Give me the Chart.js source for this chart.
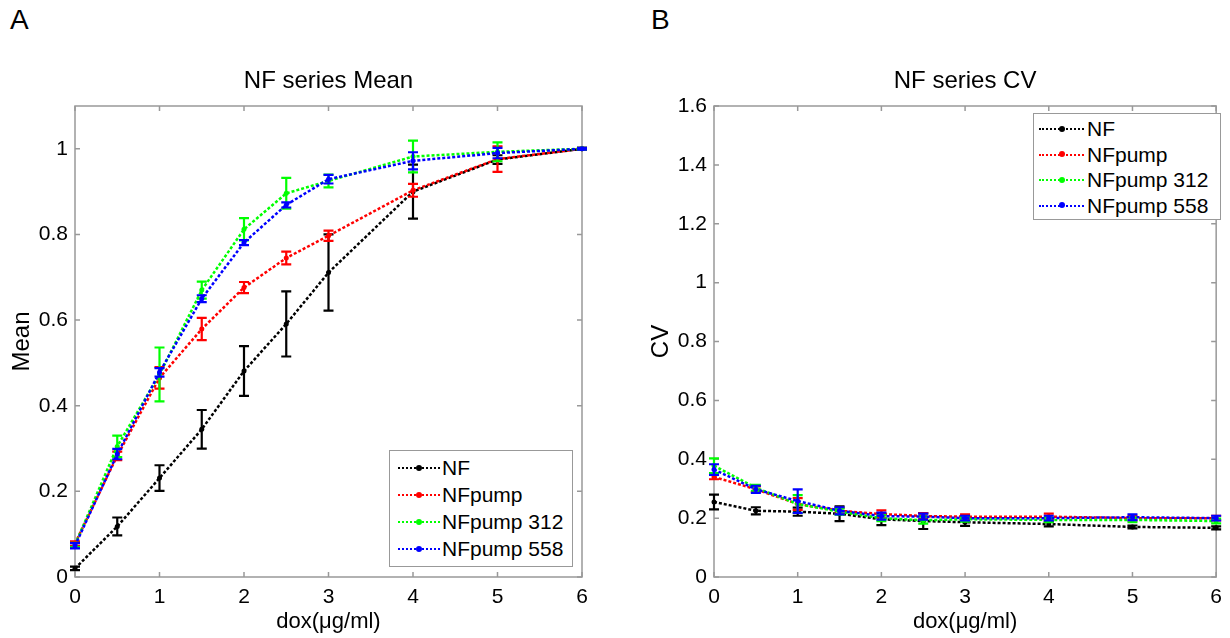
<!DOCTYPE html>
<html><head><meta charset="utf-8">
<script src="https://cdn.jsdelivr.net/npm/chart.js@4/dist/chart.umd.min.js"></script>
<style>
body{margin:0;background:#fff;width:1230px;height:638px;position:relative;overflow:hidden;font-family:"Liberation Sans",Arial,sans-serif;}
.wrap{position:absolute;top:0;width:615px;height:638px;}
.panel{position:absolute;font-size:28px;line-height:28px;color:#000;}
.legend{position:absolute;border:1px solid #999;background:#fff;font-size:21px;color:#000;box-sizing:border-box;}
.row{position:absolute;left:0;height:24px;line-height:24px;white-space:nowrap;}
.sample{position:absolute;top:11px;height:0;border-top:2.5px dotted;}
.dot{position:absolute;width:6px;height:6px;border-radius:3px;top:-4.5px;}
.lbl{position:absolute;top:0;}
</style>
</head><body>
<div class="panel" style="left:10px;top:6px">A</div>
<div class="panel" style="left:651px;top:6px">B</div>
<div class="wrap" style="left:0"><canvas id="cA" width="615" height="638"></canvas></div>
<div class="wrap" style="left:615px"><canvas id="cB" width="615" height="638"></canvas></div>
<div class="legend" id="legA" style="left:389px;top:450px;width:184px;height:117px"></div>
<div class="legend" id="legB" style="left:1033px;top:113px;width:188px;height:107px"></div>
<script>
// ---- data ----
const xValues = [0, 0.5, 1, 1.5, 2, 2.5, 3, 4, 5, 6];
const seriesNames = ["NF", "NFpump", "NFpump 312", "NFpump 558"];
const seriesColors = ["#000000", "#ff0000", "#00ff00", "#0000ff"];

const nfMean     = [0.020, 0.118, 0.231, 0.345, 0.481, 0.591, 0.711, 0.900, 0.975, 1.000];
const nfMeanErr  = [0.004, 0.021, 0.030, 0.045, 0.058, 0.076, 0.089, 0.063, 0.010, 0.002];
const pumpMean   = [0.078, 0.283, 0.465, 0.579, 0.676, 0.745, 0.797, 0.903, 0.976, 1.000];
const pumpMeanErr= [0.005, 0.010, 0.025, 0.026, 0.013, 0.015, 0.012, 0.015, 0.030, 0.002];
const p312Mean   = [0.075, 0.305, 0.473, 0.670, 0.812, 0.896, 0.925, 0.982, 0.993, 1.000];
const p312MeanErr= [0.005, 0.025, 0.063, 0.020, 0.026, 0.036, 0.015, 0.037, 0.022, 0.002];
const p558Mean   = [0.073, 0.287, 0.478, 0.650, 0.781, 0.869, 0.929, 0.972, 0.990, 1.000];
const p558MeanErr= [0.006, 0.012, 0.010, 0.008, 0.006, 0.006, 0.010, 0.020, 0.012, 0.002];

const nfCV       = [0.255, 0.225, 0.222, 0.215, 0.196, 0.190, 0.186, 0.180, 0.170, 0.167];
const nfCVErr    = [0.025, 0.012, 0.014, 0.025, 0.020, 0.027, 0.012, 0.008, 0.005, 0.005];
const pumpCV     = [0.340, 0.298, 0.248, 0.225, 0.214, 0.207, 0.205, 0.205, 0.200, 0.200];
const pumpCVErr  = [0.008, 0.010, 0.020, 0.010, 0.012, 0.010, 0.008, 0.010, 0.008, 0.008];
const p312CV     = [0.378, 0.303, 0.248, 0.222, 0.200, 0.193, 0.196, 0.194, 0.194, 0.190];
const p312CVErr  = [0.025, 0.010, 0.030, 0.010, 0.010, 0.012, 0.008, 0.008, 0.008, 0.008];
const p558CV     = [0.365, 0.298, 0.258, 0.225, 0.207, 0.205, 0.200, 0.200, 0.203, 0.200];
const p558CVErr  = [0.018, 0.012, 0.040, 0.012, 0.012, 0.010, 0.008, 0.008, 0.010, 0.008];

const xTicks = [0, 1, 2, 3, 4, 5, 6];
const xTickLabels = ["0", "1", "2", "3", "4", "5", "6"];
const yTicksA = [0, 0.2, 0.4, 0.6, 0.8, 1.0];
const yTickLabelsA = ["0", "0.2", "0.4", "0.6", "0.8", "1"];
const yTicksB = [0, 0.2, 0.4, 0.6, 0.8, 1.0, 1.2, 1.4, 1.6];
const yTickLabelsB = ["0", "0.2", "0.4", "0.6", "0.8", "1", "1.2", "1.4", "1.6"];

const FONT = '"Liberation Sans", Arial, sans-serif';

// ---- plugins ----
const errorBars = {
  id: 'errorBars',
  afterDatasetDraw(chart, args) {
    const ds = chart.data.datasets[args.index];
    if (!ds.errors) return;
    const xs = chart.scales.x, ys = chart.scales.y, ctx = chart.ctx;
    ctx.save();
    ctx.strokeStyle = ds.borderColor; ctx.lineWidth = 2.2; ctx.setLineDash([]);
    ds.data.forEach((p, i) => {
      const e = ds.errors[i];
      const x = xs.getPixelForValue(p.x);
      const y1 = ys.getPixelForValue(p.y - e), y2 = ys.getPixelForValue(p.y + e);
      ctx.beginPath();
      ctx.moveTo(x, y1); ctx.lineTo(x, y2);
      ctx.moveTo(x - 5, y1); ctx.lineTo(x + 5, y1);
      ctx.moveTo(x - 5, y2); ctx.lineTo(x + 5, y2);
      ctx.stroke();
    });
    ctx.restore();
  }
};
const frame = {
  id: 'frame',
  beforeDatasetsDraw(chart) {
    const {ctx, chartArea: a} = chart;
    const xs = chart.scales.x, ys = chart.scales.y;
    ctx.save();
    ctx.strokeStyle = '#999'; ctx.lineWidth = 1.5;
    ctx.strokeRect(a.left, a.top, a.right - a.left, a.bottom - a.top);
    ctx.beginPath();
    xs.ticks.forEach(t => { const x = xs.getPixelForValue(t.value);
      ctx.moveTo(x, a.bottom); ctx.lineTo(x, a.bottom - 5);
      ctx.moveTo(x, a.top); ctx.lineTo(x, a.top + 5); });
    ys.ticks.forEach(t => { const y = ys.getPixelForValue(t.value);
      ctx.moveTo(a.left, y); ctx.lineTo(a.left + 5, y);
      ctx.moveTo(a.right, y); ctx.lineTo(a.right - 5, y); });
    ctx.stroke();
    ctx.restore();
  }
};

function makeDatasets(vals, errs) {
  return vals.map((v, k) => ({
    label: seriesNames[k],
    data: xValues.map((x, i) => ({x: x, y: v[i]})),
    errors: errs[k],
    borderColor: seriesColors[k], backgroundColor: seriesColors[k],
    borderWidth: 2.5, borderDash: [3, 2], pointRadius: 2.5, pointBorderWidth: 0,
    tension: 0, order: 4 - k
  }));
}

function makeChart(id, title, yTitle, vals, errs, yMax, yTicks, yLabels, yWidth, padRight, yTitlePad) {
  new Chart(document.getElementById(id), {
    type: 'line',
    data: {datasets: makeDatasets(vals, errs)},
    options: {
      responsive: false, animation: false, clip: false,
      layout: {padding: {left: 0, right: padRight, top: 0, bottom: 0}},
      plugins: {
        legend: {display: false}, tooltip: {enabled: false},
        title: {display: true, fullSize: false, text: title, color: '#000',
          font: {family: FONT, size: 24, weight: 'normal'}, padding: {top: 67, bottom: 10.2}}
      },
      scales: {
        x: {type: 'linear', min: 0, max: 6,
          grid: {display: false, drawTicks: false}, border: {display: false},
          afterBuildTicks: s => { s.ticks = xTicks.map(v => ({value: v})); },
          afterFit: s => { s.height = 61; },
          ticks: {color: '#000', font: {family: FONT, size: 21}, padding: 8, maxRotation: 0,
            callback: (v, i) => xTickLabels[i]},
          title: {display: true, text: 'dox(\u03bcg/ml)', color: '#000',
            font: {family: FONT, size: 22}, padding: {top: 0, bottom: 3}}
        },
        y: {type: 'linear', min: 0, max: yMax,
          grid: {display: false, drawTicks: false}, border: {display: false},
          afterBuildTicks: s => { s.ticks = yTicks.map(v => ({value: v})); },
          afterFit: s => { s.width = yWidth; },
          ticks: {color: '#000', font: {family: FONT, size: 21}, padding: 7,
            callback: (v, i) => yLabels[i]},
          title: {display: true, text: yTitle, color: '#000',
            font: {family: FONT, size: 24}, padding: {top: yTitlePad, bottom: 0}}
        }
      }
    },
    plugins: [frame, errorBars]
  });
}

makeChart('cA', 'NF series Mean', 'Mean',
  [nfMean, pumpMean, p312Mean, p558Mean], [nfMeanErr, pumpMeanErr, p312MeanErr, p558MeanErr],
  1.1, yTicksA, yTickLabelsA, 75, 33, 8);
makeChart('cB', 'NF series CV', 'CV',
  [nfCV, pumpCV, p312CV, p558CV], [nfCVErr, pumpCVErr, p312CVErr, p558CVErr],
  1.6, yTicksB, yTickLabelsB, 99, 8, 32);

function buildLegend(id, rowTop, rowGap, sampleLeft, sampleW, textLeft) {
  const el = document.getElementById(id);
  seriesNames.forEach((n, k) => {
    const r = document.createElement('div'); r.className = 'row';
    r.style.top = (rowTop + k * rowGap) + 'px'; r.style.width = '100%';
    const s = document.createElement('div'); s.className = 'sample';
    s.style.left = sampleLeft + 'px'; s.style.width = sampleW + 'px'; s.style.borderTopColor = seriesColors[k];
    const d = document.createElement('div'); d.className = 'dot';
    d.style.left = (sampleW / 2 - 3) + 'px'; d.style.background = seriesColors[k];
    s.appendChild(d);
    const t = document.createElement('div'); t.className = 'lbl'; t.style.left = textLeft + 'px'; t.textContent = n;
    r.appendChild(s); r.appendChild(t); el.appendChild(r);
  });
}
buildLegend('legA', 5, 27, 8, 42, 52);
buildLegend('legB', 3, 25.5, 5, 45, 53);
</script>
</body></html>
